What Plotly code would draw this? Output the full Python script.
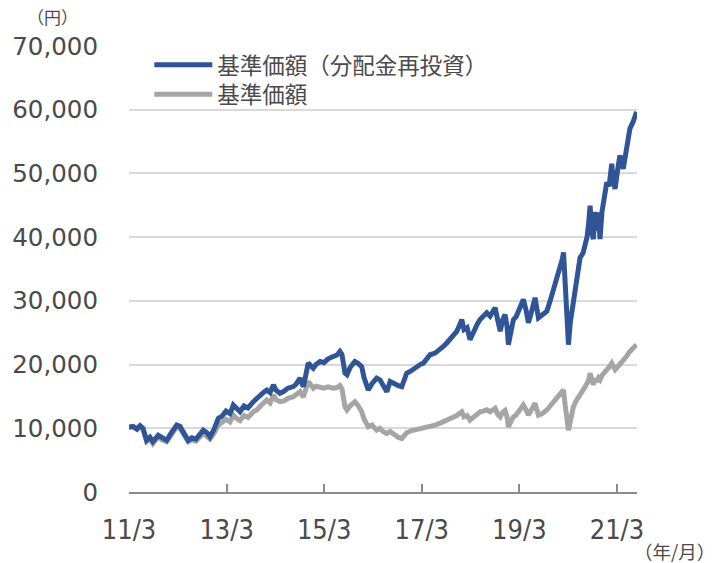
import plotly.graph_objects as go

dates = [
    "2011-03-01", "2011-03-31", "2011-04-30", "2011-05-22", "2011-06-13", "2011-07-11",
    "2011-08-05", "2011-08-27", "2011-10-06", "2011-11-03", "2011-12-08", "2012-01-09",
    "2012-02-21", "2012-03-16", "2012-04-15", "2012-05-17", "2012-06-14", "2012-07-14",
    "2012-09-07", "2012-10-05", "2012-10-27", "2012-11-26", "2012-12-28", "2013-01-25",
    "2013-02-24", "2013-03-26", "2013-04-20", "2013-05-18", "2013-06-09", "2013-07-09",
    "2013-08-08", "2013-09-17", "2013-10-15", "2013-11-14", "2013-12-06", "2013-12-26",
    "2014-01-20", "2014-02-14", "2014-03-06", "2014-04-04", "2014-05-04", "2014-06-03",
    "2014-07-13", "2014-08-02", "2014-09-01", "2014-09-26", "2014-10-16", "2014-11-02",
    "2014-11-22", "2014-12-10", "2014-12-30", "2015-01-29", "2015-02-28", "2015-03-30",
    "2015-05-08", "2015-06-05", "2015-06-27", "2015-07-12", "2015-08-04", "2015-08-19",
    "2015-09-10", "2015-10-17", "2015-11-09", "2015-12-07", "2015-12-24", "2016-01-25",
    "2016-02-22", "2016-03-28", "2016-04-22", "2016-05-15", "2016-06-12", "2016-07-07",
    "2016-08-06", "2016-09-05", "2016-10-02", "2016-10-19", "2016-11-08", "2016-12-10",
    "2017-01-22", "2017-02-16", "2017-03-13", "2017-04-09", "2017-05-02", "2017-06-08",
    "2017-07-15", "2017-08-07", "2017-09-04", "2017-09-29", "2017-10-21", "2017-11-18",
    "2017-12-05", "2017-12-25", "2018-01-11", "2018-02-03", "2018-02-25", "2018-03-27",
    "2018-04-19", "2018-05-11", "2018-06-03", "2018-06-30", "2018-07-25", "2018-08-17",
    "2018-09-01", "2018-09-20", "2018-10-09", "2018-10-27", "2018-11-14", "2018-11-29",
    "2018-12-09", "2018-12-22", "2019-01-16", "2019-02-05", "2019-03-07", "2019-03-31",
    "2019-04-21", "2019-05-08", "2019-05-28", "2019-06-27", "2019-07-22", "2019-08-19",
    "2019-09-23", "2019-10-18", "2019-11-12", "2019-12-10", "2020-01-01", "2020-01-16",
    "2020-01-26", "2020-02-08", "2020-02-19", "2020-03-03", "2020-03-16", "2020-04-09",
    "2020-04-29", "2020-05-29", "2020-06-20", "2020-07-05", "2020-07-20", "2020-07-31",
    "2020-08-12", "2020-08-23", "2020-09-05", "2020-09-18", "2020-09-29", "2020-10-13",
    "2020-10-25", "2020-11-09", "2020-11-19", "2020-12-15", "2021-01-01", "2021-01-21",
    "2021-01-31", "2021-02-15", "2021-03-09", "2021-03-23", "2021-04-17", "2021-05-12",
    "2021-06-06", "2021-06-28", "2021-07-26",
]

nav_reinvested = [
    10200, 10300, 9900, 10400, 10000, 8130,
    8600, 7900, 8900, 8500, 8100, 9200,
    10500, 10300, 9300, 8100, 8500, 8300,
    9700, 9300, 8650, 9800, 11550, 11900,
    12700, 12300, 13650, 13000, 12600, 13500,
    13200, 14170, 14600, 15300, 15700, 16000,
    15600, 16800, 16000, 15500, 15800, 16300,
    16540, 16900, 17860, 16540, 18500, 20230,
    19800, 19440, 20000, 20480, 20300, 20900,
    21270, 21500, 22060, 21600, 18650, 18400,
    19500, 20480, 20200, 19700, 18000, 16000,
    17000, 17860, 17600, 16900, 15750, 17330,
    16900, 16700, 16540, 17500, 18650, 19000,
    19700, 20000, 20230, 21000, 21540, 21800,
    22330, 22800, 23390, 24000, 24500, 25220,
    26000, 27060, 25500, 25800, 23900, 25500,
    26300, 27060, 27500, 28120, 27600, 28500,
    28910, 27000, 25220, 27000, 27850, 26000,
    23120, 24500, 27060, 27500, 29000, 30220,
    28500, 26540, 28000, 30490, 27330, 27800,
    28370, 30000, 31800, 33500, 35470, 36500,
    37590, 31000, 26000, 23120, 26500, 30220,
    33000, 36800, 37500, 38630, 40000, 42000,
    44940, 41000, 39690, 43950, 41000, 43900,
    39690, 44000, 45480, 48630, 48000, 51520,
    49000, 47580, 51000, 52830, 50730, 53890,
    57050, 58000, 59680,
]

nav = [
    10100, 10200, 9800, 10300, 9900, 7900,
    8300, 7600, 8700, 8200, 7900, 8900,
    10200, 10000, 9000, 7900, 8200, 8000,
    9200, 8800, 8300, 9200, 10500, 10900,
    11400, 11000, 12070, 11500, 11200, 12000,
    11700, 12600, 12900, 13600, 14000, 14440,
    14000, 15230, 14500, 14170, 14300, 14700,
    14960, 15200, 15750, 14900, 16300, 17330,
    16800, 16290, 16600, 16540, 16300, 16500,
    16290, 16400, 16700, 16200, 13380, 12860,
    13500, 14170, 13600, 12600, 11500, 10230,
    10500, 9700, 10000, 9500, 9180, 9500,
    9000, 8600, 8400, 8900, 9300, 9600,
    9800, 9850, 9970, 10200, 10200, 10500,
    10800, 11000, 11300, 11550, 11700, 12000,
    12300, 12600, 11800, 12000, 11280, 11900,
    12200, 12600, 12700, 12900, 12600, 12900,
    13130, 12200, 11800, 12500, 12800, 11800,
    10230, 10800, 11800, 12100, 12800, 13650,
    12900, 12070, 12800, 13920, 12070, 12300,
    12860, 13500, 14170, 14900, 15500, 15800,
    16020, 13500, 11200, 9700, 11000, 13380,
    14300, 15500, 16000, 16500, 17000, 17500,
    18650, 17300, 16800, 17800, 17300, 17900,
    17600, 18300, 18500, 19200, 19600, 20230,
    19600, 19200, 19700, 20000, 20750, 21300,
    22060, 22600, 23120,
]

tick_dates = ["2011-03-01", "2013-03-01", "2015-03-01", "2017-03-01", "2019-03-01", "2021-03-01"]
tick_labels = ["11/3", "13/3", "15/3", "17/3", "19/3", "21/3"]
y_ticks = [0, 10000, 20000, 30000, 40000, 50000, 60000, 70000]

name_reinv = "基準価額（分配金再投資）"
name_nav = "基準価額"

BLUE = "#2F5597"
GRAY = "#A5A5A5"
TXT = "#4A4A4A"
NUMFONT = "DejaVu Sans, Verdana, sans-serif"
CJK = "Noto Sans CJK JP, sans-serif"

fig = go.Figure()
fig.add_trace(go.Scatter(x=dates, y=nav, mode="lines", name=name_nav, legend="legend2",
                         line=dict(color=GRAY, width=5)))
fig.add_trace(go.Scatter(x=dates, y=nav_reinvested, mode="lines", name=name_reinv, legend="legend",
                         line=dict(color=BLUE, width=5)))

legend_common = dict(
    xanchor="left", yanchor="middle",
    bgcolor="rgba(0,0,0,0)",
    font=dict(family=CJK, size=22.5, color=TXT),
    itemwidth=58,
)

fig.update_layout(
    width=722, height=563,
    margin=dict(l=129, r=85, t=46, b=71),
    paper_bgcolor="white", plot_bgcolor="white",
    showlegend=True,
    legend=dict(x=0.04, y=0.957, **legend_common),
    legend2=dict(x=0.04, y=0.891, **legend_common),
    xaxis=dict(
        type="date",
        range=["2011-03-01", "2021-07-29"],
        tickvals=tick_dates, ticktext=tick_labels,
        showgrid=False, showline=True, linecolor="#8C8C8C", linewidth=2,
        ticks="inside", ticklen=8, tickwidth=1.5, tickcolor="#8C8C8C",
        tickfont=dict(family="DejaVu Sans Condensed, DejaVu Sans, sans-serif", size=27, color=TXT),
        ticklabelstandoff=13,
        zeroline=False,
    ),
    yaxis=dict(
        range=[0, 70000],
        tickvals=y_ticks, tickformat=",",
        showgrid=True, gridcolor="#D9D9D9", gridwidth=1.5,
        showline=False, zeroline=False, ticks="",
        tickfont=dict(family=NUMFONT, size=24.5, color=TXT),
        ticklabelstandoff=30,
    ),
    annotations=[
        dict(text="（円）", xref="paper", yref="paper", x=-0.150, y=1.0,
             xanchor="center", yanchor="bottom", yshift=15, showarrow=False,
             font=dict(family=CJK, size=17, color=TXT)),
        dict(text="（年/月）", xref="paper", yref="paper", x=1.073, y=0.0,
             xanchor="center", yanchor="top", yshift=-44, showarrow=False,
             font=dict(family=CJK, size=18.5, color=TXT)),
    ],
)

fig.write_html("out.html", post_script="document.body.style.margin='0';",
               config={"displayModeBar": False})
